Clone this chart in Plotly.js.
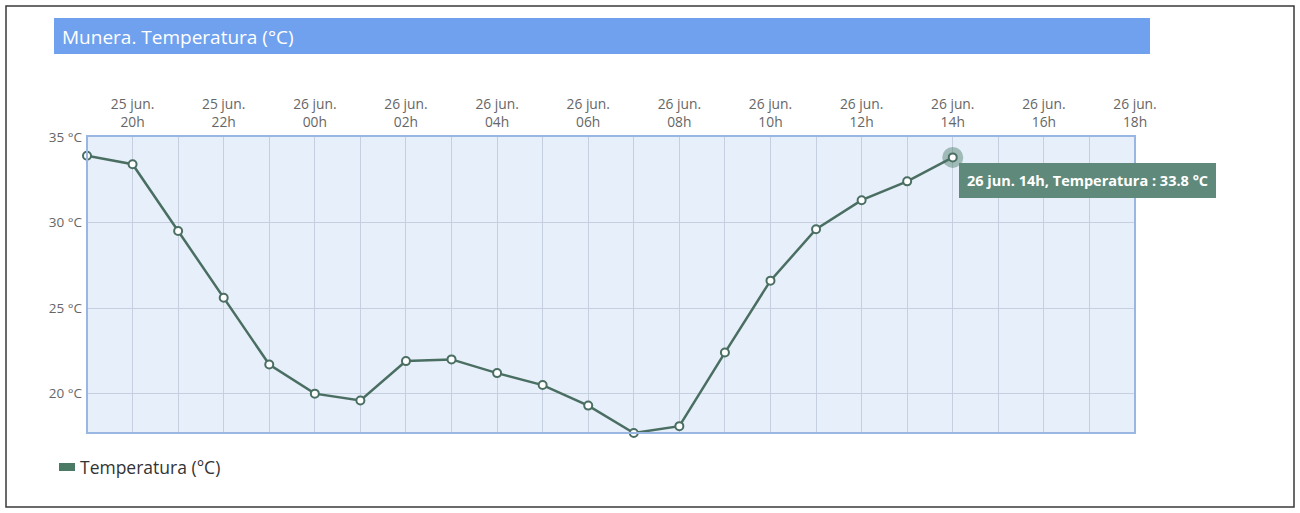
<!DOCTYPE html>
<html>
<head>
<meta charset="utf-8">
<script src="https://cdn.plot.ly/plotly-3.0.1.min.js"></script>
<style>
  html, body { margin: 0; padding: 0; background: #ffffff; }
  #chart { width: 1300px; height: 513px; }
</style>
</head>
<body>
<div id="chart"></div>
<script>
// Hourly categories on the axis (25 jun. 19h -> 26 jun. 18h)
const times = [
  '25 jun. 19h', '25 jun. 20h', '25 jun. 21h', '25 jun. 22h', '25 jun. 23h',
  '26 jun. 00h', '26 jun. 01h', '26 jun. 02h', '26 jun. 03h', '26 jun. 04h',
  '26 jun. 05h', '26 jun. 06h', '26 jun. 07h', '26 jun. 08h', '26 jun. 09h',
  '26 jun. 10h', '26 jun. 11h', '26 jun. 12h', '26 jun. 13h', '26 jun. 14h',
  '26 jun. 15h', '26 jun. 16h', '26 jun. 17h', '26 jun. 18h'
];
// Temperature readings (°C), 19h .. 14h
const temps = [33.9, 33.4, 29.5, 25.6, 21.7, 20.0, 19.6, 21.9, 22.0, 21.2,
               20.5, 19.3, 17.7, 18.1, 22.4, 26.6, 29.6, 31.3, 32.4, 33.8];
const yTicks = [20, 25, 30, 35];
const yTickText = ['20 °C', '25 °C', '30 °C', '35 °C'];
const seriesName = 'Temperatura (°C)';
const chartTitle = 'Munera. Temperatura (°C)';
const hoverIndex = 19;

const tickText = times.map((t) => {
  const hr = parseInt(t.slice(-3, -1), 10);
  if (hr % 2 !== 0) return '';
  const parts = t.split(' ');
  return parts[0] + ' ' + parts[1] + '<br>' + parts[2];
});

const lineColor = '#4a6f62';

const traces = [
  {
    type: 'scatter', mode: 'markers',
    x: [times[hoverIndex]], y: [temps[hoverIndex]],
    marker: { size: 21, color: 'rgba(74,122,102,0.45)' },
    showlegend: false, hoverinfo: 'skip'
  },
  {
    type: 'scatter', mode: 'lines+markers',
    x: times.slice(0, temps.length), y: temps,
    name: seriesName,
    line: { color: lineColor, width: 2.5 },
    marker: { size: 8, color: '#ffffff', line: { color: lineColor, width: 2 } },
    showlegend: false, cliponaxis: false
  }
];

const L = 87, R = 165, T = 136, B = 80;
const PW = 1300 - L - R, PH = 513 - T - B;
const px = (x) => (x - L) / PW;
const py = (y) => (513 - B - y) / PH;

const layout = {
  width: 1300, height: 513,
  margin: { l: L, r: R, t: T, b: B, pad: 0 },
  paper_bgcolor: 'rgba(0,0,0,0)',
  plot_bgcolor: '#e7effa',
  font: { family: 'Open Sans, sans-serif', color: '#666666', size: 13 },
  showlegend: false,
  xaxis: {
    type: 'category',
    categoryorder: 'array', categoryarray: times,
    range: [0, times.length - 1],
    side: 'top',
    tickmode: 'array', tickvals: times, ticktext: tickText,
    ticklabelstandoff: 5,
    showgrid: true, gridcolor: '#c5cfdf', gridwidth: 1,
    zeroline: false, showline: false, ticks: '',
    tickfont: { size: 13.8, color: '#666666' },
    fixedrange: true
  },
  yaxis: {
    range: [17.7, 35.05],
    tickmode: 'array', tickvals: yTicks, ticktext: yTickText,
    ticklabelstandoff: 4,
    showgrid: true, gridcolor: '#c5cfdf', gridwidth: 1,
    zeroline: false, showline: false, ticks: '',
    tickfont: { size: 13.5, color: '#666666' },
    fixedrange: true
  },
  shapes: [
    { type: 'rect', xref: 'paper', yref: 'paper', x0: px(6), x1: px(1294), y0: py(507), y1: py(6),
      line: { color: '#3a3a3a', width: 1.5 }, fillcolor: 'rgba(0,0,0,0)', layer: 'below' },
    { type: 'rect', xref: 'paper', yref: 'paper', x0: px(54), x1: px(1150), y0: py(54), y1: py(18),
      line: { width: 0 }, fillcolor: '#6fa1ee', layer: 'below' },
    { type: 'rect', xref: 'paper', yref: 'paper', x0: 0, x1: 1, y0: 0, y1: 1,
      line: { color: '#9ab7e3', width: 2 }, fillcolor: 'rgba(0,0,0,0)', layer: 'above' },
    // legend swatch
    { type: 'rect', xref: 'paper', yref: 'paper', x0: px(59), x1: px(75), y0: py(471), y1: py(463),
      line: { width: 0 }, fillcolor: '#4a7a66' }
  ],
  annotations: [
    { xref: 'paper', yref: 'paper', x: px(60), y: py(37), xanchor: 'left', yanchor: 'middle',
      text: chartTitle, showarrow: false,
      font: { family: 'Open Sans, sans-serif', size: 19, color: '#ffffff' } },
    { xref: 'paper', yref: 'paper', x: px(78), y: py(467), xanchor: 'left', yanchor: 'middle',
      text: seriesName, showarrow: false,
      font: { family: 'Open Sans, sans-serif', size: 17.5, color: '#333333' } },
    { xref: 'x', yref: 'y', x: times[hoverIndex], y: temps[hoverIndex],
      xanchor: 'left', yanchor: 'middle', xshift: 6, yshift: -23,
      text: '<b>' + times[hoverIndex] + ', Temperatura : ' + temps[hoverIndex] + ' °C</b>',
      showarrow: false, bgcolor: '#5f8a7b', bordercolor: '#5f8a7b', borderpad: 7,
      font: { family: 'Open Sans, sans-serif', size: 14.5, color: '#ffffff' } }
  ]
};

Plotly.newPlot('chart', traces, layout, { displayModeBar: false, staticPlot: true });
</script>
</body>
</html>
